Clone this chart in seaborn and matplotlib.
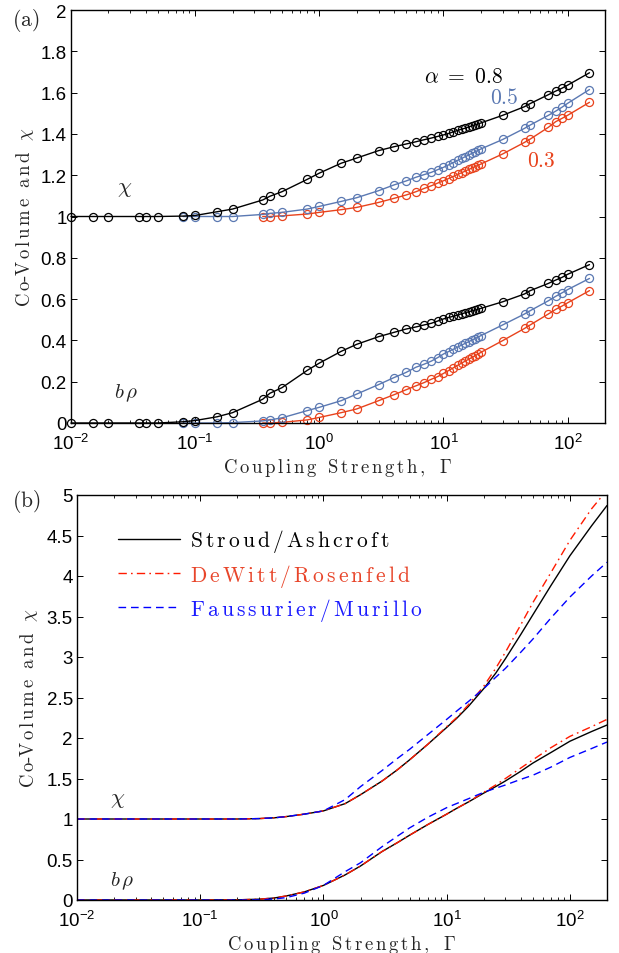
import numpy as np
import pandas as pd
import matplotlib
matplotlib.use("Agg")
import matplotlib.pyplot as plt
import seaborn as sns
from matplotlib.ticker import FuncFormatter, FixedLocator, LogLocator, LogFormatterSciNotation

# ---------------- data: panel (a) ----------------
G_black = [0.01, 0.015, 0.02, 0.035, 0.04, 0.05, 0.08, 0.1, 0.15, 0.2, 0.35, 0.4, 0.5, 0.8, 1, 1.5, 2, 3, 4, 5,
           6, 7, 8, 9, 10, 11, 12, 13, 14, 15, 16, 17, 18, 19, 20, 30, 45, 50, 70, 80, 90, 100, 150]
G_blue = [0.08, 0.1, 0.15, 0.2, 0.35, 0.4, 0.5, 0.8, 1, 1.5, 2, 3, 4, 5,
          6, 7, 8, 9, 10, 11, 12, 13, 14, 15, 16, 17, 18, 19, 20, 30, 45, 50, 70, 80, 90, 100, 150]
G_red = [0.35, 0.4, 0.5, 0.8, 1, 1.5, 2, 3, 4, 5,
         6, 7, 8, 9, 10, 11, 12, 13, 14, 15, 16, 17, 18, 19, 20, 30, 45, 50, 70, 80, 90, 100, 150]

chi_08 = [1.0, 1.0, 1.0, 1.0, 1.0, 1.0, 1.002, 1.005, 1.023, 1.036, 1.08, 1.098, 1.12, 1.18, 1.21, 1.258, 1.283,
          1.319, 1.338, 1.351, 1.362, 1.372, 1.38, 1.388, 1.395, 1.402, 1.41, 1.417, 1.423, 1.428, 1.434, 1.439,
          1.444, 1.448, 1.453, 1.49, 1.532, 1.547, 1.59, 1.607, 1.621, 1.636, 1.696]
chi_05 = [1.0, 1.0, 1.0, 1.0, 1.01, 1.015, 1.02, 1.036, 1.049, 1.073, 1.091, 1.125, 1.153, 1.172, 1.19, 1.203,
          1.214, 1.227, 1.238, 1.25, 1.261, 1.272, 1.281, 1.29, 1.298, 1.306, 1.313, 1.32, 1.327, 1.373, 1.427,
          1.443, 1.49, 1.51, 1.529, 1.548, 1.615]
chi_03 = [1.0, 1.0, 1.003, 1.012, 1.02, 1.033, 1.044, 1.068, 1.088, 1.104, 1.12, 1.136, 1.149, 1.162, 1.173,
          1.184, 1.194, 1.204, 1.212, 1.22, 1.228, 1.235, 1.242, 1.248, 1.254, 1.303, 1.359, 1.375, 1.432, 1.459,
          1.475, 1.49, 1.553]
brho_08 = [0.0, 0.0, 0.0, 0.0, 0.0, 0.0, 0.006, 0.012, 0.03, 0.05, 0.115, 0.144, 0.171, 0.255, 0.29, 0.347, 0.381,
           0.418, 0.439, 0.455, 0.465, 0.475, 0.483, 0.494, 0.504, 0.511, 0.517, 0.523, 0.529, 0.534, 0.539,
           0.543, 0.547, 0.551, 0.555, 0.587, 0.625, 0.641, 0.676, 0.692, 0.705, 0.72, 0.767]
brho_05 = [0.0, 0.0, 0.0, 0.002, 0.01, 0.015, 0.025, 0.06, 0.076, 0.108, 0.14, 0.186, 0.22, 0.245, 0.27, 0.285,
           0.3, 0.317, 0.334, 0.346, 0.357, 0.368, 0.377, 0.386, 0.394, 0.402, 0.409, 0.416, 0.423, 0.475, 0.528,
           0.544, 0.592, 0.613, 0.63, 0.646, 0.70]
brho_03 = [0.0, 0.0, 0.003, 0.015, 0.027, 0.05, 0.068, 0.108, 0.137, 0.161, 0.18, 0.196, 0.212, 0.225, 0.24,
           0.254, 0.267, 0.279, 0.29, 0.30, 0.309, 0.318, 0.326, 0.334, 0.342, 0.399, 0.458, 0.475, 0.528, 0.55,
           0.566, 0.582, 0.641]

# ---------------- data: panel (b) ----------------
G_b = [0.01, 0.05, 0.1, 0.2, 0.3, 0.4, 0.5, 0.7, 1, 1.5, 2, 3, 4, 5, 7, 10, 12, 15, 20, 25, 30, 40, 50, 70, 100,
       150, 200]
SA_chi = [1.0, 1.0, 1.0, 1.0, 1.005, 1.015, 1.03, 1.06, 1.10, 1.19, 1.30, 1.47, 1.61, 1.73, 1.92, 2.13, 2.24,
          2.39, 2.61, 2.80, 2.98, 3.28, 3.52, 3.88, 4.25, 4.62, 4.87]
DR_chi = [1.0, 1.0, 1.0, 1.0, 1.005, 1.015, 1.03, 1.06, 1.10, 1.19, 1.30, 1.47, 1.61, 1.73, 1.92, 2.14, 2.25,
          2.41, 2.64, 2.86, 3.06, 3.40, 3.67, 4.04, 4.44, 4.83, 5.06]
FM_chi = [1.0, 1.0, 1.0, 1.0, 1.005, 1.015, 1.03, 1.06, 1.10, 1.24, 1.40, 1.60, 1.75, 1.86, 2.04, 2.23, 2.33,
          2.45, 2.61, 2.75, 2.86, 3.06, 3.22, 3.48, 3.74, 4.00, 4.17]
SA_brho = [0.0, 0.0, 0.0, 0.002, 0.01, 0.025, 0.05, 0.10, 0.18, 0.31, 0.42, 0.60, 0.71, 0.80, 0.93, 1.06, 1.13,
           1.21, 1.32, 1.40, 1.47, 1.59, 1.69, 1.82, 1.96, 2.08, 2.16]
DR_brho = [0.0, 0.0, 0.0, 0.002, 0.01, 0.025, 0.05, 0.10, 0.18, 0.31, 0.42, 0.60, 0.71, 0.80, 0.93, 1.06, 1.13,
           1.21, 1.33, 1.42, 1.50, 1.63, 1.73, 1.88, 2.02, 2.14, 2.23]
FM_brho = [0.0, 0.0, 0.0, 0.0, 0.003, 0.012, 0.03, 0.085, 0.18, 0.35, 0.46, 0.66, 0.79, 0.89, 1.02, 1.14, 1.19,
           1.25, 1.33, 1.38, 1.42, 1.49, 1.54, 1.64, 1.76, 1.87, 1.95]

legend_labels = ["Stroud/Ashcroft", "DeWitt/Rosenfeld", "Faussurier/Murillo"]
yticks_a = [0, 0.2, 0.4, 0.6, 0.8, 1.0, 1.2, 1.4, 1.6, 1.8, 2.0]
yticks_b = [0, 0.5, 1, 1.5, 2, 2.5, 3, 3.5, 4, 4.5, 5]

# ---------------- style ----------------
sns.set_theme(style="ticks")
plt.rcParams["font.family"] = ["Liberation Sans", "DejaVu Sans"]
plt.rcParams.update({
    "mathtext.fontset": "cm",
    "xtick.direction": "in", "ytick.direction": "in",
    "xtick.top": True, "ytick.right": True,
    "xtick.major.size": 4, "ytick.major.size": 4,
    "xtick.minor.size": 2, "ytick.minor.size": 2,
    "xtick.major.width": 0.7, "ytick.major.width": 0.7,
    "xtick.minor.width": 0.6,
    "xtick.labelsize": 13.5, "ytick.labelsize": 13.5,
    "axes.linewidth": 1.0,
    "axes.edgecolor": "black",
    "xtick.color": "black", "ytick.color": "black",
})

BLACK = "#000000"
BLUEGREY = "#5a78b2"
REDA = "#e8421c"


def sp(text):
    words = text.split(" ")
    return r"\ \ ".join(r"\mathrm{" + r"\,".join(w) + "}" for w in words)


XLABEL = "$" + sp("Coupling Strength,") + r"\ \ \Gamma$"
YLABEL = "$" + sp("Co") + "$-$" + sp("Volume and") + r"\ \ \chi$"

fig = plt.figure(figsize=(6.19, 9.54), dpi=100)
W, H = 619, 954
ax_a = fig.add_axes([71 / W, 1 - 424 / H, (605 - 71) / W, (424 - 11) / H])
ax_b = fig.add_axes([77 / W, 1 - 901 / H, (607 - 77) / W, (901 - 496) / H])


def style_axis(ax, yticks, ylabelpad):
    ax.set_xscale("log")
    ax.set_xlim(0.01, 200)
    ax.set_ylim(yticks[0], yticks[-1])
    ax.yaxis.set_major_locator(FixedLocator(yticks))
    ax.yaxis.set_major_formatter(FuncFormatter(lambda v, p: f"{v:g}"))
    ax.xaxis.set_major_locator(FixedLocator([0.01, 0.1, 1, 10, 100]))
    ax.xaxis.set_major_formatter(LogFormatterSciNotation())
    ax.xaxis.set_minor_locator(LogLocator(base=10, subs=np.arange(2, 10), numticks=20))
    ax.tick_params(axis="y", which="minor", left=False, right=False)
    ax.tick_params(axis="x", pad=7)
    ax.tick_params(axis="y", pad=3)
    for s in ax.spines.values():
        s.set_visible(True)
        s.set_linewidth(1.0)
        s.set_color("black")
    ax.set_xlabel(XLABEL, fontsize=13.5, family="cmr10", labelpad=2)
    ax.set_ylabel(YLABEL, fontsize=13.5, family="cmr10", labelpad=ylabelpad)


# ---------------- panel (a) ----------------
series_a = [
    (G_black, chi_08, BLACK), (G_blue, chi_05, BLUEGREY), (G_red, chi_03, REDA),
    (G_black, brho_08, BLACK), (G_blue, brho_05, BLUEGREY), (G_red, brho_03, REDA),
]
for order in [(2, 1, 0), (5, 4, 3)]:
    for i in order:
        g, v, c = series_a[i]
        sns.lineplot(x=g, y=v, ax=ax_a, color=c, lw=1.0, marker="o", markersize=5.8,
                     markerfacecolor="none", markeredgecolor=c, markeredgewidth=0.9,
                     estimator=None, legend=False, clip_on=False)
style_axis(ax_a, yticks_a, 3)

ax_a.text(0.027, 1.14, r"$\chi$", fontsize=16, ha="center", va="center")
ax_a.text(0.028, 0.15, r"$b\,\rho$", fontsize=15, ha="center", va="center")
ax_a.text(7.0, 1.68, r"$\alpha\ =\ 0.8$", fontsize=15.5, ha="left", va="center", color=BLACK)
ax_a.text(23.5, 1.574, r"$0.5$", fontsize=15.5, ha="left", va="center", color=BLUEGREY)
ax_a.text(46.8, 1.27, r"$0.3$", fontsize=15.5, ha="left", va="center", color=REDA)

# ---------------- panel (b) ----------------
RED_B = "#ff1a00"
BLUE_B = "#0000ff"
DASHDOT = (0, (6, 3, 1.2, 3))
DASHED = (0, (5.5, 3.5))
sns.lineplot(x=G_b, y=SA_chi, ax=ax_b, color=BLACK, lw=1.0, estimator=None, label=legend_labels[0])
sns.lineplot(x=G_b, y=DR_chi, ax=ax_b, color=RED_B, lw=1.0, estimator=None, label=legend_labels[1],
             linestyle=DASHDOT)
sns.lineplot(x=G_b, y=FM_chi, ax=ax_b, color=BLUE_B, lw=1.0, estimator=None, label=legend_labels[2],
             linestyle=DASHED)
sns.lineplot(x=G_b, y=SA_brho, ax=ax_b, color=BLACK, lw=1.0, estimator=None, legend=False)
sns.lineplot(x=G_b, y=DR_brho, ax=ax_b, color=RED_B, lw=1.0, estimator=None, legend=False, linestyle=DASHDOT)
sns.lineplot(x=G_b, y=FM_brho, ax=ax_b, color=BLUE_B, lw=1.0, estimator=None, legend=False, linestyle=DASHED)
style_axis(ax_b, yticks_b, 5)

handles, _ = ax_b.get_legend_handles_labels()
leg = ax_b.legend(handles[:3], ["$" + sp(l) + "$" for l in legend_labels],
                  loc="upper left", bbox_to_anchor=(0.077, 0.92), borderaxespad=0, borderpad=0,
                  frameon=False, fontsize=15.5, handlelength=2.9, handletextpad=0.45, labelspacing=0.33,
                  labelcolor=["#000000", "#e8452a", "#1a1aff"])

ax_b.text(0.0215, 1.25, r"$\chi$", fontsize=16, ha="center", va="center")
ax_b.text(0.0232, 0.24, r"$b\,\rho$", fontsize=15, ha="center", va="center")

fig.text(12 / W, 1 - 21 / H, r"$(\mathrm{a})$", fontsize=15.5, ha="left", va="center")
fig.text(12 / W, 1 - 502 / H, r"$(\mathrm{b})$", fontsize=15.5, ha="left", va="center")

fig.savefig("out.png", dpi=100)
